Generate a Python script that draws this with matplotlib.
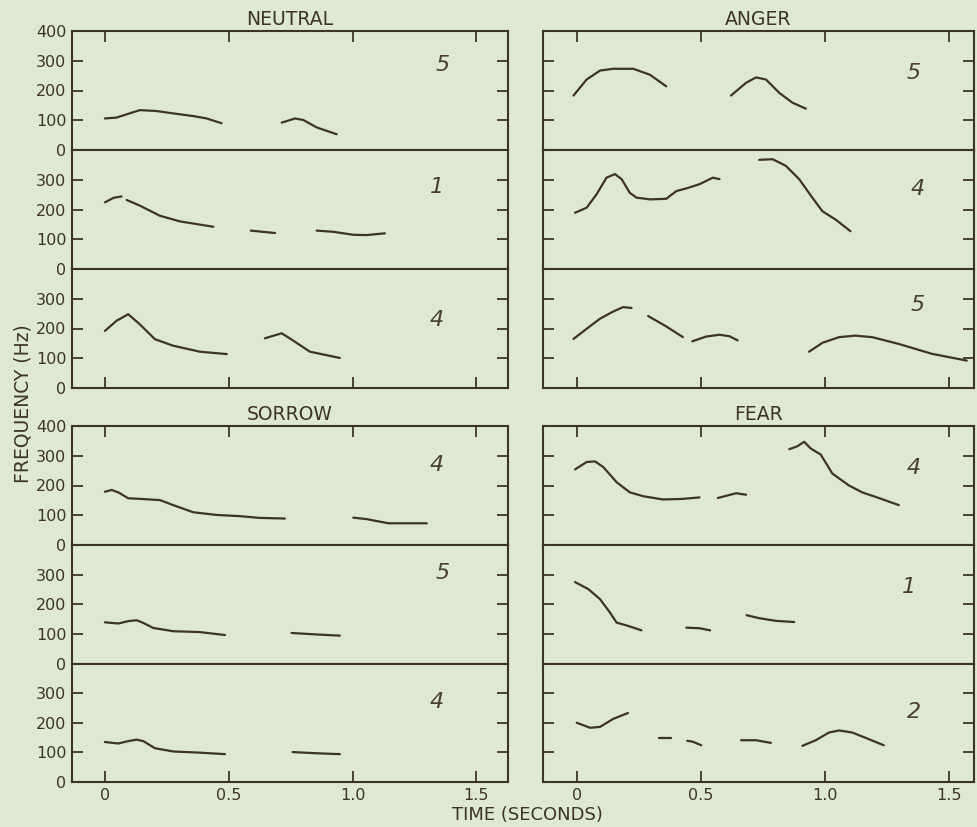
import matplotlib.pyplot as plt

plt.rcParams['font.family'] = ['DejaVu Sans']

# time (s) and frequency (Hz) for each traced segment, one list of segments per panel
neutral_1_t = [[0, 0.047, 0.088, 0.141, 0.209, 0.276, 0.357, 0.411, 0.471],
               [0.714, 0.768, 0.801, 0.855, 0.936]]
neutral_1_hz = [[106, 109, 120, 134, 131, 123, 114, 106, 90],
                [92, 106, 101, 76, 53]]
neutral_2_t = [[0, 0.034, 0.067],
               [0.088, 0.141, 0.222, 0.303, 0.438],
               [0.589, 0.687],
               [0.855, 0.923, 1.003, 1.057, 1.131]]
neutral_2_hz = [[224, 239, 244],
                [232, 213, 179, 160, 142],
                [129, 121],
                [129, 125, 115, 114, 120]]
neutral_3_t = [[0, 0.047, 0.094, 0.141, 0.202, 0.276, 0.384, 0.492],
               [0.646, 0.714, 0.761, 0.828, 0.949]]
neutral_3_hz = [[192, 226, 248, 214, 164, 142, 122, 114],
                [167, 184, 159, 122, 101]]

anger_1_t = [[-0.013, 0.04, 0.094, 0.147, 0.228, 0.295, 0.361],
             [0.622, 0.683, 0.723, 0.763, 0.817, 0.870, 0.924]]
anger_1_hz = [[183, 237, 267, 273, 273, 253, 214],
              [183, 226, 244, 237, 192, 159, 139]]
anger_2_t = [[-0.007, 0.04, 0.08, 0.12, 0.154, 0.181, 0.214, 0.241, 0.295, 0.361,
              0.375, 0.402, 0.442, 0.495, 0.549, 0.576],
             [0.736, 0.790, 0.843, 0.897, 0.950, 0.991, 1.044, 1.104]]
anger_2_hz = [[189, 206, 251, 307, 319, 302, 256, 240, 234, 236,
               245, 262, 271, 285, 307, 302],
              [367, 369, 347, 302, 240, 194, 166, 127]]
anger_3_t = [[-0.013, 0.04, 0.094, 0.147, 0.187, 0.221],
             [0.288, 0.361, 0.428],
             [0.466, 0.522, 0.576, 0.616, 0.649],
             [0.937, 0.991, 1.058, 1.124, 1.191, 1.299, 1.432, 1.573]]
anger_3_hz = [[165, 199, 233, 257, 272, 269],
              [242, 207, 171],
              [157, 173, 179, 174, 160],
              [122, 152, 171, 176, 171, 148, 115, 92]]

sorrow_1_t = [[0, 0.027, 0.054, 0.094, 0.141, 0.222, 0.276, 0.357, 0.451, 0.545, 0.626, 0.727],
              [1.003, 1.057, 1.145, 1.3]]
sorrow_1_hz = [[179, 185, 177, 157, 155, 151, 134, 110, 101, 97, 91, 89],
               [92, 87, 73, 73]]
sorrow_2_t = [[0, 0.054, 0.094, 0.128, 0.155, 0.195, 0.276, 0.384, 0.485],
              [0.754, 0.855, 0.949]]
sorrow_2_hz = [[139, 135, 143, 146, 137, 120, 109, 106, 96],
               [103, 98, 94]]
sorrow_3_t = [[0, 0.054, 0.094, 0.128, 0.155, 0.202, 0.276, 0.384, 0.485],
              [0.758, 0.855, 0.949]]
sorrow_3_hz = [[135, 130, 138, 143, 138, 114, 103, 99, 94],
               [101, 97, 94]]

fear_1_t = [[-0.007, 0.04, 0.074, 0.107, 0.161, 0.214, 0.268, 0.348, 0.428, 0.495],
            [0.569, 0.643, 0.683],
            [0.857, 0.890, 0.917, 0.944, 0.984, 1.031, 1.098, 1.151, 1.218, 1.299]]
fear_1_hz = [[254, 279, 281, 262, 211, 177, 164, 153, 155, 160],
             [158, 174, 169],
             [322, 332, 347, 324, 304, 240, 200, 177, 158, 134]]
fear_2_t = [[-0.007, 0.047, 0.094, 0.134, 0.161, 0.207, 0.261],
            [0.442, 0.495, 0.538],
            [0.685, 0.736, 0.803, 0.877]]
fear_2_hz = [[275, 251, 217, 172, 138, 127, 112],
             [121, 119, 112],
             [163, 153, 144, 140]]
fear_3_t = [[0, 0.054, 0.094, 0.147, 0.207],
            [0.332, 0.382],
            [0.446, 0.468, 0.502],
            [0.663, 0.723, 0.783],
            [0.910, 0.964, 1.017, 1.058, 1.111, 1.165, 1.238]]
fear_3_hz = [[200, 183, 186, 213, 233],
             [147, 147],
             [139, 136, 124],
             [141, 141, 132],
             [122, 141, 167, 174, 167, 149, 124]]

emotions = ['NEUTRAL', 'ANGER', 'SORROW', 'FEAR']
# handwritten marks in the corner of every panel
marks_left = ['5', '1', '4', '4', '5', '4']
marks_right = ['5', '4', '5', '4', '1', '2']
x_ticks = [0, 0.5, 1.0, 1.5]
x_tick_labels = ['0', '0.5', '1.0', '1.5']
y_ticks = [0, 100, 200, 300, 400]

paper = '#dde8d5'
ink = '#3e3424'

W, H = 978, 827
fig = plt.figure(figsize=(W / 100, H / 100), dpi=100, facecolor=paper)

# panel rows in pixels (top, bottom)
rows = [(31, 150), (150, 269), (269, 388), (426, 545), (545, 663.5), (663.5, 782)]
# columns in pixels (left, right) and their time limits
cols = [((72, 508), (-0.133, 1.628)), ((543, 974), (-0.136, 1.602))]

left_t = [neutral_1_t, neutral_2_t, neutral_3_t, sorrow_1_t, sorrow_2_t, sorrow_3_t]
left_hz = [neutral_1_hz, neutral_2_hz, neutral_3_hz, sorrow_1_hz, sorrow_2_hz, sorrow_3_hz]
right_t = [anger_1_t, anger_2_t, anger_3_t, fear_1_t, fear_2_t, fear_3_t]
right_hz = [anger_1_hz, anger_2_hz, anger_3_hz, fear_1_hz, fear_2_hz, fear_3_hz]

mark_pos_left = [(0.849, 0.714), (0.837, 0.69), (0.837, 0.57), (0.837, 0.67), (0.849, 0.76), (0.837, 0.675)]
mark_pos_right = [(0.86, 0.647), (0.869, 0.672), (0.87, 0.70), (0.86, 0.647), (0.85, 0.645), (0.86, 0.59)]

for c, ((px0, px1), xlim) in enumerate(cols):
    times = left_t if c == 0 else right_t
    freqs = left_hz if c == 0 else right_hz
    marks = marks_left if c == 0 else marks_right
    mpos = mark_pos_left if c == 0 else mark_pos_right
    for r, (top, bot) in enumerate(rows):
        ax = fig.add_axes([px0 / W, 1 - bot / H, (px1 - px0) / W, (bot - top) / H])
        ax.set_facecolor(paper)
        for sp in ax.spines.values():
            sp.set_color(ink)
            sp.set_linewidth(1.5)
        ax.set_xlim(*xlim)
        ax.set_ylim(0, 400)

        for seg_t, seg_hz in zip(times[r], freqs[r]):
            ax.plot(seg_t, seg_hz, color=ink, lw=1.6,
                    solid_joinstyle='round', solid_capstyle='round')

        ax.text(*mpos[r], marks[r], transform=ax.transAxes, fontsize=16,
                color='#4a4030', ha='center', va='center', style='italic')

        # y ticks inside on both sides, labels on the far left only
        first = r in (0, 3)
        ax.set_yticks(y_ticks if first else y_ticks[:-1])
        ax.tick_params(axis='y', direction='in', length=8, width=1.3, color=ink,
                       left=True, right=True, labelleft=(c == 0), labelright=False,
                       labelsize=11.5, labelcolor=ink, pad=4)

        # x ticks only on the outer edge of each group
        last = r in (2, 5)
        if first or last:
            ax.set_xticks(x_ticks)
            ax.set_xticklabels(x_tick_labels)
        else:
            ax.set_xticks([])
        ax.tick_params(axis='x', direction='in', length=8, width=1.3, color=ink,
                       top=first, bottom=last, labeltop=False, labelbottom=(r == 5),
                       labelsize=11.5, labelcolor=ink, pad=4)

        if first:
            ax.set_title(emotions[(r // 3) * 2 + c], fontsize=13.5, color=ink, pad=4)

fig.text(23 / W, 1 - 404 / H, 'FREQUENCY (Hz)', rotation=90, ha='center', va='center',
         fontsize=13.5, color=ink)
fig.text(527 / W, 1 - 815 / H, 'TIME (SECONDS)', ha='center', va='center',
         fontsize=13, color=ink)

fig.savefig('out.png', dpi=100, facecolor=paper)
